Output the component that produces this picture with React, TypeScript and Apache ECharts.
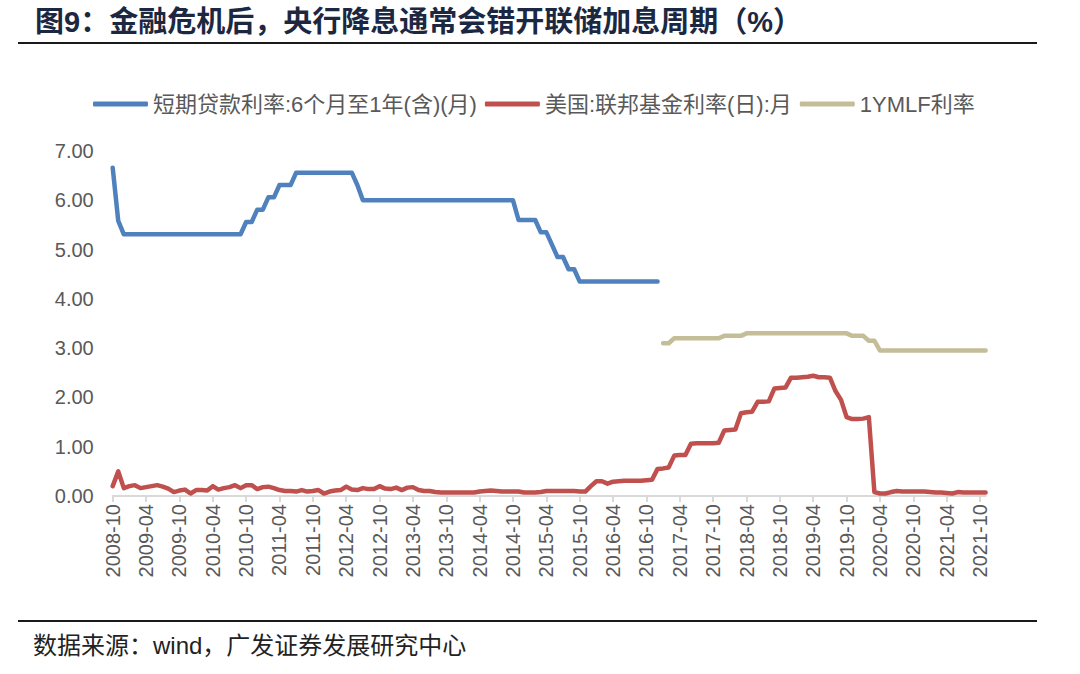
import React, { useEffect, useRef } from "react";
import * as echarts from "echarts";

const FONT = "'Liberation Sans', 'Noto Sans CJK SC', sans-serif";

const titleText = "图9：金融危机后，央行降息通常会错开联储加息周期（%）";
const sourceText = "数据来源：wind，广发证券发展研究中心";
const seriesNames = ["短期贷款利率:6个月至1年(含)(月)", "美国:联邦基金利率(日):月", "1YMLF利率"];
const seriesColors = ["#4f81bd", "#c0504d", "#c4bd97"];

// monthly categories 2008-10 .. 2021-11
const startYear = 2008;
const startMonth = 10;
const monthCount = 158;
const months: string[] = [];
for (let i = 0; i < monthCount; i++) {
  const t = startYear * 12 + (startMonth - 1) + i;
  const y = Math.floor(t / 12);
  const m = (t % 12) + 1;
  months.push(`${y}-${m < 10 ? "0" + m : m}`);
}

// 2008-10 .. 2016-12
const chinaLoanRate = [
  6.66, 5.58,
  5.31, 5.31, 5.31, 5.31, 5.31, 5.31, 5.31, 5.31, 5.31, 5.31, 5.31,
  5.31, 5.31, 5.31, 5.31, 5.31, 5.31, 5.31, 5.31, 5.31, 5.31, 5.31,
  5.56, 5.56, 5.81, 5.81, 6.06, 6.06, 6.31, 6.31, 6.31,
  6.56, 6.56, 6.56, 6.56, 6.56, 6.56, 6.56, 6.56, 6.56, 6.56, 6.56,
  6.31,
  6.0, 6.0, 6.0, 6.0, 6.0, 6.0, 6.0, 6.0, 6.0, 6.0, 6.0, 6.0, 6.0, 6.0,
  6.0, 6.0, 6.0, 6.0, 6.0, 6.0, 6.0, 6.0, 6.0, 6.0, 6.0, 6.0, 6.0, 6.0,
  5.6, 5.6, 5.6, 5.6, 5.35, 5.35, 5.1, 4.85, 4.85, 4.6, 4.6,
  4.35, 4.35, 4.35, 4.35, 4.35, 4.35, 4.35, 4.35, 4.35, 4.35, 4.35, 4.35, 4.35, 4.35, 4.35,
];

// 2008-10 .. 2021-11
const fedFundsRate = [
  0.2, 0.5, 0.16,
  0.2, 0.22, 0.16, 0.18, 0.2, 0.22, 0.19, 0.15, 0.08, 0.11, 0.13, 0.05,
  0.12, 0.12, 0.11, 0.2, 0.13, 0.16, 0.18, 0.22, 0.16, 0.22, 0.22, 0.14,
  0.18, 0.19, 0.16, 0.12, 0.1, 0.1, 0.09, 0.12, 0.09, 0.1, 0.12, 0.05,
  0.09, 0.11, 0.12, 0.19, 0.13, 0.12, 0.16, 0.14, 0.14, 0.2, 0.15, 0.14,
  0.17, 0.12, 0.17, 0.18, 0.12, 0.1, 0.1, 0.08, 0.07, 0.07, 0.07, 0.07,
  0.07, 0.07, 0.07, 0.09, 0.1, 0.11, 0.1, 0.09, 0.09, 0.09, 0.09, 0.07,
  0.07, 0.07, 0.08, 0.1, 0.1, 0.1, 0.1, 0.1, 0.1, 0.09, 0.09, 0.2,
  0.3, 0.3, 0.25, 0.29, 0.3, 0.31, 0.31, 0.31, 0.31, 0.32, 0.33, 0.55,
  0.56, 0.58, 0.82, 0.83, 0.83, 1.06, 1.07, 1.07, 1.07, 1.07, 1.08, 1.33,
  1.34, 1.35, 1.68, 1.7, 1.71, 1.91, 1.91, 1.92, 2.18, 2.19, 2.2, 2.4,
  2.4, 2.41, 2.42, 2.44, 2.41, 2.41, 2.4, 2.13, 1.95, 1.6, 1.56, 1.56,
  1.57, 1.6, 0.08, 0.05, 0.05, 0.08, 0.1, 0.09, 0.09, 0.09, 0.09, 0.09,
  0.08, 0.07, 0.07, 0.06, 0.05, 0.08, 0.07, 0.07, 0.07, 0.07, 0.07,
];

// 2017-01 .. 2021-11
const mlfStart = "2017-01";
const mlfRate = [
  3.1, 3.1,
  3.2, 3.2, 3.2, 3.2, 3.2, 3.2, 3.2, 3.2, 3.2,
  3.25, 3.25, 3.25, 3.25,
  3.3, 3.3, 3.3, 3.3, 3.3, 3.3, 3.3, 3.3, 3.3, 3.3, 3.3, 3.3, 3.3, 3.3, 3.3, 3.3, 3.3, 3.3, 3.3,
  3.25, 3.25, 3.25,
  3.15, 3.15,
  2.95, 2.95, 2.95, 2.95, 2.95, 2.95, 2.95, 2.95, 2.95, 2.95,
  2.95, 2.95, 2.95, 2.95, 2.95, 2.95, 2.95, 2.95, 2.95, 2.95,
];

const yMin = 0;
const yMax = 7;
const yStep = 1;

export default function App() {
  const ref = useRef<HTMLDivElement>(null);
  useEffect(() => {
    if (!ref.current) return;
    const chart = echarts.init(ref.current, undefined, { renderer: "svg" });
    const mlfIdx = months.indexOf(mlfStart);
    const mlfData = months.map((_, i) => (i < mlfIdx ? "-" : mlfRate[i - mlfIdx]));
    const mk = (name: string, data: any[], color: string) => ({
      name,
      type: "line",
      data,
      showSymbol: false,
      symbol: "none",
      connectNulls: false,
      lineStyle: { width: 4.5, color, cap: "round", join: "round" },
      itemStyle: { color },
      z: 3,
    });
    chart.setOption({
      animation: false,
      backgroundColor: "#ffffff",
      textStyle: { fontFamily: FONT },
      legend: {
        left: 88,
        top: 88,
        itemWidth: 55,
        itemHeight: 5,
        itemGap: 8,
        icon: "roundRect",
        textStyle: { fontSize: 22, color: "#595959", fontFamily: FONT },
        data: seriesNames,
      },
      grid: { left: 112.7, right: 94.4, top: 151, bottom: 178, containLabel: false },
      xAxis: {
        type: "category",
        data: months,
        boundaryGap: false,
        axisLine: { lineStyle: { color: "#d9d9d9", width: 2 } },
        axisTick: { interval: 5, length: 6, lineStyle: { color: "#d9d9d9", width: 2 } },
        axisLabel: { interval: 5, rotate: 90, fontSize: 20, color: "#595959", margin: 8, fontFamily: FONT },
        splitLine: { show: false },
      },
      yAxis: {
        type: "value",
        min: yMin,
        max: yMax,
        interval: yStep,
        axisLine: { show: false },
        axisTick: { show: false },
        splitLine: { show: false },
        axisLabel: {
          fontSize: 20,
          color: "#595959",
          margin: 19,
          fontFamily: FONT,
          formatter: (v: number) => v.toFixed(2),
        },
      },
      series: [
        mk(seriesNames[0], chinaLoanRate, seriesColors[0]),
        mk(seriesNames[1], fedFundsRate, seriesColors[1]),
        mk(seriesNames[2], mlfData, seriesColors[2]),
      ],
      graphic: [
        {
          type: "text",
          x: 35,
          y: 22,
          style: {
            text: titleText,
            font: `bold 29px ${FONT}`,
            fill: "#1c2841",
            verticalAlign: "middle",
            align: "left",
          },
        },
        {
          type: "line",
          shape: { x1: 18, y1: 43, x2: 1037, y2: 43 },
          style: { stroke: "#1a1a1a", lineWidth: 2 },
        },
        {
          type: "line",
          shape: { x1: 18, y1: 621, x2: 1037, y2: 621 },
          style: { stroke: "#1a1a1a", lineWidth: 2 },
        },
        {
          type: "text",
          x: 33,
          y: 645,
          style: {
            text: sourceText,
            font: `24px ${FONT}`,
            fill: "#222222",
            verticalAlign: "middle",
            align: "left",
          },
        },
      ],
    });
    return () => chart.dispose();
  }, []);
  return (
    <div
      ref={ref}
      style={{ position: "fixed", left: 0, top: 0, width: 1080, height: 674, background: "#fff" }}
    />
  );
}
